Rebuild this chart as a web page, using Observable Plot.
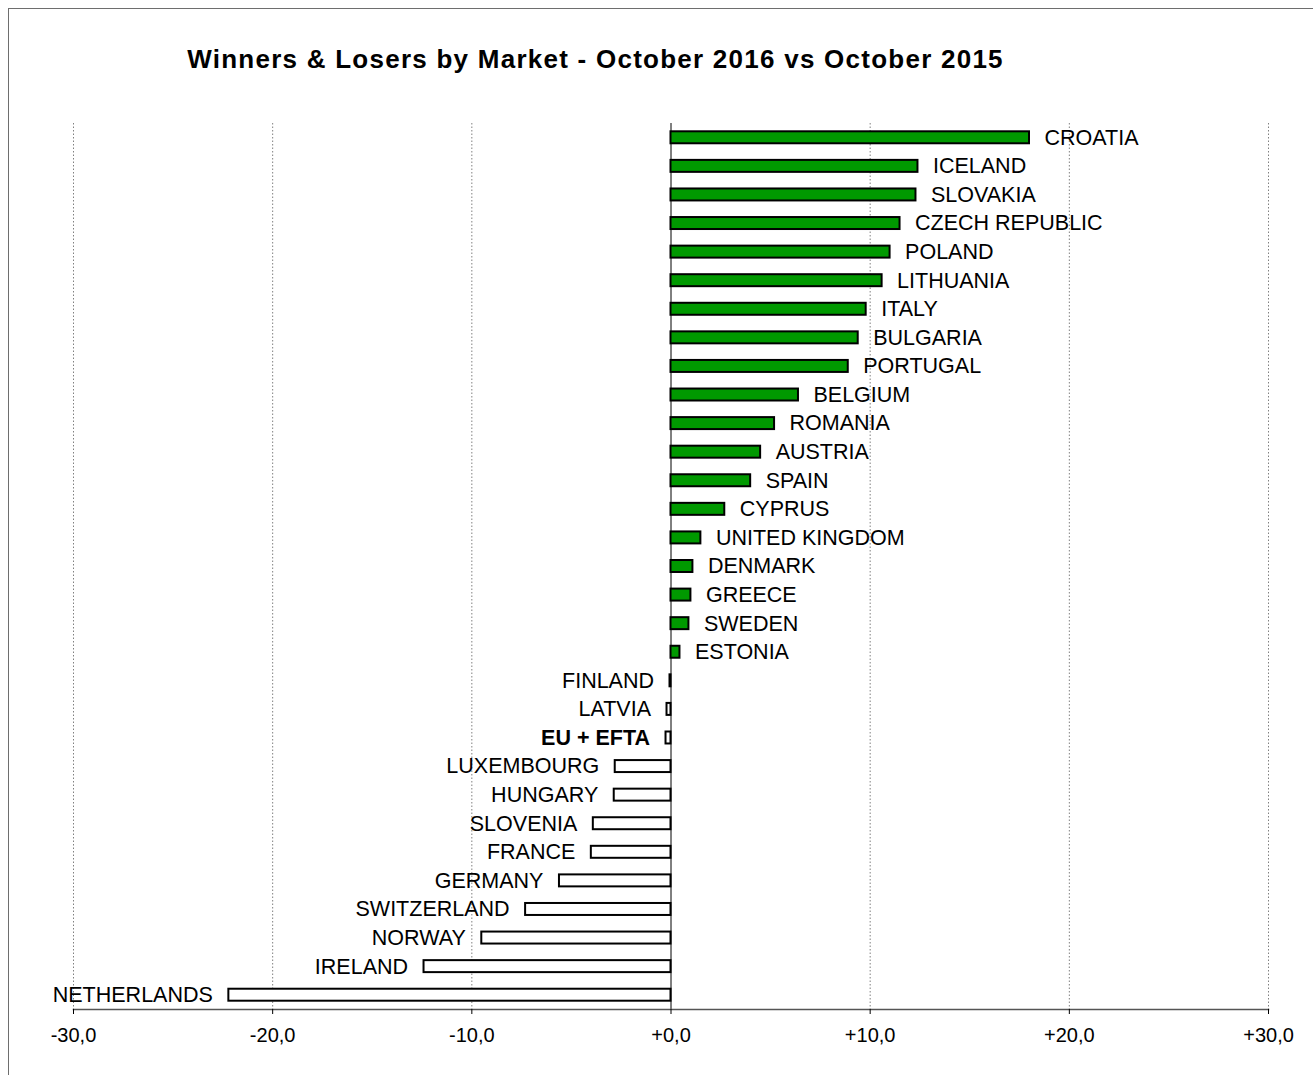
<!DOCTYPE html>
<html>
<head>
<meta charset="utf-8">
<script src="https://cdn.jsdelivr.net/npm/d3@7"></script>
<script src="https://cdn.jsdelivr.net/npm/@observablehq/plot@0.6"></script>
<style>
  html, body { margin: 0; padding: 0; background: #fff; }
  #page { position: relative; width: 1313px; height: 1075px; overflow: hidden; background: #fff;
          font-family: "Liberation Sans", Arial, Helvetica, sans-serif; }
  #frame { position: absolute; left: 8px; top: 8px; width: 1400px; height: 1200px;
           border-left: 1px solid #6e6e6e; border-top: 1px solid #6e6e6e; }
  #title { position: absolute; left: 0; top: 44px; width: 1191px; text-align: center;
           font-weight: bold; font-size: 26px; letter-spacing: 1.25px; color: #000; }
  #chart { position: absolute; left: 0; top: 100px; }
</style>
</head>
<body>
<div id="page">
  <div id="frame"></div>
  <div id="title">Winners &amp; Losers by Market - October 2016 vs October 2015</div>
  <div id="chart"></div>
</div>
<script>
const markets = [
  "CROATIA", "ICELAND", "SLOVAKIA", "CZECH REPUBLIC", "POLAND", "LITHUANIA", "ITALY",
  "BULGARIA", "PORTUGAL", "BELGIUM", "ROMANIA", "AUSTRIA", "SPAIN", "CYPRUS",
  "UNITED KINGDOM", "DENMARK", "GREECE", "SWEDEN", "ESTONIA", "FINLAND", "LATVIA",
  "EU + EFTA", "LUXEMBOURG", "HUNGARY", "SLOVENIA", "FRANCE", "GERMANY",
  "SWITZERLAND", "NORWAY", "IRELAND", "NETHERLANDS"
];
const changes = [
  18.0, 12.4, 12.3, 11.5, 11.0, 10.6, 9.8,
  9.4, 8.9, 6.4, 5.2, 4.5, 4.0, 2.7,
  1.5, 1.1, 1.0, 0.9, 0.45, -0.05, -0.2,
  -0.25, -2.8, -2.85, -3.9, -4.0, -5.6,
  -7.3, -9.5, -12.4, -22.2
];
const xTicks = [-30, -20, -10, 0, 10, 20, 30];
const totalLabel = "EU + EFTA";

const data = markets.map((m, i) => ({market: m, value: changes[i]}));
const fmt = d => (d >= 0 ? "+" : "") + d.toFixed(1).replace(".", ",");

const chart = Plot.plot({
  width: 1313,
  height: 960,
  marginLeft: 73,
  marginRight: 45,
  marginTop: 23,
  marginBottom: 51,
  style: {fontFamily: "'Liberation Sans', Arial, sans-serif", background: "transparent", color: "#000"},
  x: {domain: [-30, 30], ticks: xTicks, tickFormat: fmt},
  y: {domain: markets, padding: 0, round: false},
  marks: [
    Plot.gridX(xTicks.filter(d => d !== 0), {stroke: "#808080", strokeOpacity: 1, strokeDasharray: "1.5,2", strokeWidth: 1}),
    Plot.ruleX([0], {stroke: "#000", strokeWidth: 1}),
    Plot.frame({anchor: "bottom", stroke: "#555", strokeWidth: 1.5}),
    Plot.axisX({ticks: xTicks, tickFormat: fmt, tickSize: 5, tickPadding: 13, fontSize: 20, label: null, stroke: "#000"}),
    Plot.axisY({ticks: [], label: null, tickSize: 0}),
    Plot.barX(data, {x: "value", y: "market", insetTop: 8.3, insetBottom: 8.3,
      fill: d => d.value >= 0 ? "#009900" : "#ffffff", stroke: "#000", strokeWidth: 2}),
    Plot.text(data.filter(d => d.value >= 0), {x: "value", y: "market", text: "market",
      textAnchor: "start", dx: 15, fontSize: 21.5, fill: "#000"}),
    Plot.text(data.filter(d => d.value < 0 && d.market !== totalLabel), {x: "value", y: "market", text: "market",
      textAnchor: "end", dx: -16, fontSize: 21.5, fill: "#000"}),
    Plot.text(data.filter(d => d.market === totalLabel), {x: "value", y: "market", text: "market",
      textAnchor: "end", dx: -16, fontSize: 21.5, fontWeight: "bold", fill: "#000"})
  ]
});
document.getElementById("chart").appendChild(chart);
</script>
</body>
</html>
